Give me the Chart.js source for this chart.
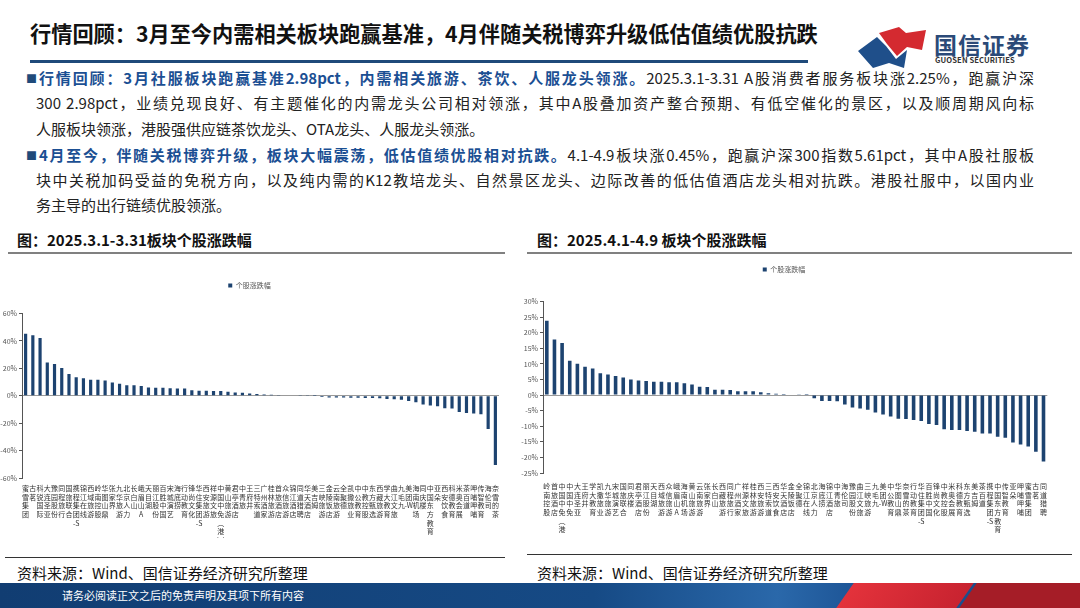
<!DOCTYPE html>
<html><head><meta charset="utf-8">
<script src="https://cdn.jsdelivr.net/npm/chart.js@4.4.1/dist/chart.umd.min.js"></script>
<style>
html,body{margin:0;padding:0}
body{width:1080px;height:608px;overflow:hidden;background:#fff;position:relative;font-family:"Noto Sans CJK SC","Noto Sans",sans-serif;color:#1a1a1a}
.abs{position:absolute}
#title{left:30px;top:17px;font-size:21.2px;font-weight:700;color:#111;white-space:nowrap}
#tline{left:30px;top:60px;width:778px;height:3px;background:#1f4a7a}
.ln{position:absolute;left:39px;width:995px;font-size:15px;line-height:20px;color:#222;text-align:justify;text-align-last:justify}
.ln.last{text-align-last:left}
.b{color:#1b4f93;font-weight:700}
.bullet{position:absolute;left:26px;font-size:11px;line-height:12px;color:#1f4a7a;z-index:5}
.ct{position:absolute;top:229px;font-size:15px;font-weight:700;color:#111;white-space:nowrap}
.rule{position:absolute;height:1.5px;background:#808080}
.src{position:absolute;top:562px;font-size:15px;color:#111;white-space:nowrap}
.sline{position:absolute;height:1px;background:#333}
canvas{position:absolute}
#foot{left:0;top:583px;width:1080px;height:25px;overflow:hidden;background:linear-gradient(90deg,#113d72 0%,#164a85 55%,#2a68aa 72%,#1c5394 80%,#174a86 100%)}
#foot .txt{position:absolute;left:62px;top:4px;font-size:11px;color:#fff;white-space:nowrap}
</style></head>
<body>
<div id="title" class="abs">行情回顾：3月至今内需相关板块跑赢基准，4月伴随关税博弈升级低估值绩优股抗跌</div>
<div id="tline" class="abs"></div>

<svg class="abs" style="left:850px;top:20px" width="90" height="55" viewBox="850 20 90 55">
  <path d="M879 33 L899 27 L906 33 L926 30 L922 50 L907 47 L897 56 L887 44 Z" fill="#d42a30"/>
  <path d="M858 51 L877 37 L886 46 L896 59 L907 50 L904 68 L889 63 L873 68 Z" fill="#1f4f8a"/>
</svg>
<div class="abs" style="left:934px;top:27px;font-size:23px;font-weight:700;color:#2b4a78;letter-spacing:1px;white-space:nowrap">国信证券</div>
<div class="abs" style="left:935px;top:54px;font-size:7.6px;font-weight:700;color:#333;white-space:nowrap;letter-spacing:0.1px">GUOSEN SECURITIES</div>

<div class="bullet" style="top:72px">■</div>
<div class="ln" style="top:68px"><span class="b">行情回顾：3月社服板块跑赢基准2.98pct，内需相关旅游、茶饮、人服龙头领涨。</span>2025.3.1-3.31 A股消费者服务板块涨2.25%，跑赢沪深</div>
<div class="ln" style="top:93px;left:36px;width:998px">300 2.98pct，业绩兑现良好、有主题催化的内需龙头公司相对领涨，其中A股叠加资产整合预期、有低空催化的景区，以及顺周期风向标</div>
<div class="ln last" style="top:119px;left:36px">人服板块领涨，港股强供应链茶饮龙头、OTA龙头、人服龙头领涨。</div>

<div class="bullet" style="top:149px">■</div>
<div class="ln" style="top:145px"><span class="b">4月至今，伴随关税博弈升级，板块大幅震荡，低估值绩优股相对抗跌。</span>4.1-4.9板块涨0.45%，跑赢沪深300指数5.61pct，其中A股社服板</div>
<div class="ln" style="top:170px;left:36px;width:998px">块中关税加码受益的免税方向，以及纯内需的K12教培龙头、自然景区龙头、边际改善的低估值酒店龙头相对抗跌。港股社服中，以国内业</div>
<div class="ln last" style="top:195px;left:36px">务主导的出行链绩优股领涨。</div>

<div class="ct" style="left:17px">图：2025.3.1-3.31板块个股涨跌幅</div>
<div class="rule" style="left:8px;top:252px;width:497px"></div>
<div class="ct" style="left:537px">图：2025.4.1-4.9 板块个股涨跌幅</div>
<div class="rule" style="left:527px;top:252px;width:545px"></div>

<canvas id="c1" width="499" height="266" style="left:0;top:272px"></canvas>
<canvas id="c2" width="528" height="279" style="left:520px;top:256px"></canvas>

<div class="sline" style="left:5px;top:557px;width:500px"></div>
<div class="src" style="left:17px">资料来源：Wind、国信证券经济研究所整理</div>
<div class="sline" style="left:527px;top:554px;width:545px"></div>
<div class="src" style="left:537px">资料来源：Wind、国信证券经济研究所整理</div>

<div id="foot" class="abs">
  <div class="txt">请务必阅读正文之后的免责声明及其项下所有内容</div>
  <div class="abs" style="left:845px;top:0;width:120px;height:25px;background:linear-gradient(90deg,#e3323b,#c82330);transform:skewX(-35deg)"></div>
  <div class="abs" style="left:968px;top:0;width:140px;height:25px;background:#a51d27;transform:skewX(-35deg)"></div>
</div>

<script>
// ---- data ----
const leftCategories = ["蜜雪集团","古茗","科锐国际","大连圣亚","豫园股份","同程旅行","国旅联合","携程集团-S","锦江在线","西域旅游","岭南控股","华图山鼎","张家界","九华旅游","北京人力","长白山","峨眉山A","天目湖","丽江股份","百胜中国","宋城演艺","海底捞","行动教育","锋尚文化","华住集团-S","西安旅游","祥源文旅","中国中免(港)","黄山旅游","君亭酒店","中青旅","王府井","三特索道","广州酒家","桂林旅游","首旅酒店","众信旅游","锦江酒店","同道猎聘","华天酒店","美吉姆","三峡旅游","金陵饭店","云南旅游","全聚德","凯撒旅业","中公教育","中教控股","东方甄选","西藏旅游","学大教育","曲江文旅","九毛九","美团-W","海南机场","同庆楼","中国东方教育","亚朵","西安饮食","科德教育","米奥会展","茶百道","呷哺呷哺","传智教育","海伦司","奈雪的茶"];
const leftValues = [45.3,44.1,42.2,24.3,23.1,20.2,15.9,13.5,12.8,11.6,11.6,11.1,9.6,8.7,7.7,7.7,7.2,6.0,5.8,5.8,5.5,5.3,5.3,4.1,3.6,3.6,3.4,3.4,2.9,2.4,2.2,1.7,1.2,1.0,0.7,0.5,0.4,0.3,0.2,0.1,0.05,-1.0,-1.2,-1.2,-1.3,-1.4,-1.5,-1.6,-1.7,-1.9,-2.3,-2.5,-2.9,-3.9,-4.8,-6.3,-7.2,-7.7,-9.1,-9.3,-11.8,-12.5,-13.0,-13.5,-24.3,-50.5];
const leftTickValues = [-60,-40,-20,0,20,40,60];

const rightCategories = ["岭南控股","首旅酒店","中国中免(港)","中国中免","大连圣亚","王府井","学大教育","凯撒旅业","九华旅游","宋城演艺","国旅联合","同庆楼","君亭酒店","丽江股份","天目湖","西域旅游","众信旅游","峨眉山A","海南机场","黄山旅游","云南旅游","张家界","长白山","西藏旅游","同程旅行","广州酒家","祥源文旅","桂林旅游","西安旅游","三特索道","西安饮食","华天酒店","金陵饭店","全聚德","锦江在线","北京人力","海底捞","锦江酒店","中青旅","海伦司","豫园股份","曲江文旅","三峡旅游","九毛九","美团-W","中公教育","华图山鼎","奈雪的茶","行动教育","华住集团-S","百胜中国","锋尚文化","中教控股","米奥会展","科德教育","东方甄选","美吉姆","茶百道","携程集团-S","中国东方教育","传智教育","亚朵","呷哺呷哺","蜜雪集团","古茗","同道猎聘"];
const rightValues = [23.8,17.8,16.7,11.0,10.0,9.1,8.5,7.0,6.6,6.1,5.6,5.0,4.7,4.5,4.3,4.3,4.1,4.1,3.8,3.4,2.7,2.6,1.7,1.7,1.6,1.2,1.2,1.2,0.9,0.6,0.4,0.3,0.2,0.1,0.05,-1.0,-1.9,-1.9,-2.0,-3.0,-4.0,-4.3,-4.7,-5.6,-6.2,-6.9,-7.6,-7.7,-8.0,-8.3,-9.3,-9.6,-11.0,-11.2,-11.2,-11.5,-11.8,-12.3,-12.3,-13.4,-13.7,-15.2,-15.9,-16.5,-18.2,-21.3];
const rightTickValues = [-25,-20,-15,-10,-5,0,5,10,15,20,25,30];

const seriesName = "个股涨跌幅";
const FONT = '"Noto Sans CJK SC","Noto Sans",sans-serif';

function stack(name){
  const out=[]; let i=0;
  while(i<name.length){
    const c=name[i];
    if(c==='-'){out.push(name.slice(i,i+2)); i+=2; continue;}
    if(c==='('){out.push('︵'); i++; continue;}
    if(c===')'){out.push('︶'); i++; continue;}
    out.push(c); i++;
  }
  return out;
}

const legendGap = {
  id:'legendGap',
  beforeInit(chart){
    const lg = chart.legend; if(!lg) return;
    const fit = lg.fit;
    lg.fit = function(){ fit.bind(lg)(); this.height += (chart.options.plugins.legendGap||{}).gap||0; };
  }
};

function makeChart(id, cats, vals, ticks, o){
  return new Chart(document.getElementById(id), {
    type:'bar',
    data:{labels:cats.map(stack), datasets:[{label:seriesName, data:vals, backgroundColor:'#1d4370', borderWidth:0, barPercentage:o.bp, categoryPercentage:1}]},
    options:{
      responsive:false, animation:false,
      layout:{padding:{top:0,right:0,left:0,bottom:0}},
      plugins:{
        legend:{display:true,position:'top',labels:{boxWidth:4,boxHeight:4,padding:10,color:'#555',font:{size:7,family:FONT}}},
        tooltip:{enabled:false},
        legendGap:{gap:o.gap}
      },
      scales:{
        x:{grid:{display:false},border:{display:false},
           ticks:{autoSkip:false,maxRotation:0,minRotation:0,padding:o.xpad,color:'#333',font:{size:7,family:FONT,lineHeight:1.24}},
           afterFit:s=>{s.height=o.xh;}},
        y:{min:ticks[0],max:ticks[ticks.length-1],
           afterBuildTicks:s=>{s.ticks=ticks.map(v=>({value:v}));},
           border:{display:true,color:'#555',width:1},
           grid:{color:c=>(c.tick&&c.tick.value===0)?'#9a9a9a':'rgba(0,0,0,0)',tickColor:'#555',tickLength:3,lineWidth:1},
           ticks:{color:'#555',padding:2,font:{size:7,family:FONT},callback:v=>v+'%'},
           afterFit:s=>{s.width=o.yw;}}
      }
    },
    plugins:[legendGap]
  });
}

makeChart('c1', leftCategories, leftValues, leftTickValues, {bp:0.44, gap:14.5, xh:60, yw:22, xpad:-2});
makeChart('c2', rightCategories, rightValues, rightTickValues, {bp:0.47, gap:18.5, xh:62, yw:23, xpad:1});
</script>
</body></html>
